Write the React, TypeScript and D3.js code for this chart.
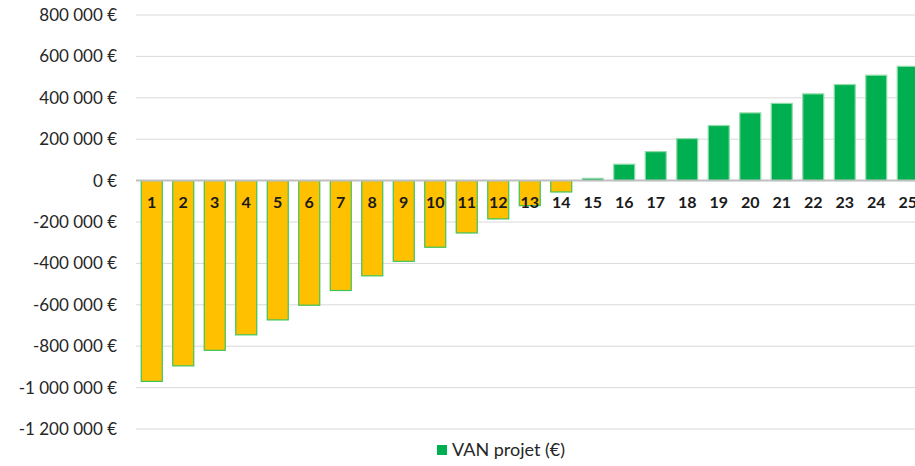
import React, { useEffect, useRef } from "react";
import * as d3 from "d3";

// Years of the project
const years = d3.range(1, 26).map(String);

// Net present value of the project per year (€)
const vanProjet = [
  -970000, -895000, -820000, -745000, -673000, -602000, -531000, -460000,
  -390000, -322000, -253000, -185000, -121000, -55000, 11000, 79000, 140000,
  203000, 266000, 327000, 373000, 419000, 464000, 509000, 552000,
];

// Y-axis ticks
const yTicks = [
  800000, 600000, 400000, 200000, 0, -200000, -400000, -600000, -800000,
  -1000000, -1200000,
];

const legendLabel = "VAN projet (€)";

const fmt = (v: number) =>
  d3.format(",")(v).replace(/,/g, " ").replace("−", "-") + " €";

function App() {
  const ref = useRef<SVGSVGElement | null>(null);

  useEffect(() => {
    const svg = d3.select(ref.current);
    svg.selectAll("*").remove();

    const width = 915;
    const height = 466;
    const left = 136;
    const top = 15;
    const bottom = 429;

    const x = d3
      .scaleBand()
      .domain(years)
      .range([left, left + 31.5 * 25])
      .paddingInner(1 / 3)
      .paddingOuter(1 / 6);

    const y = d3
      .scaleLinear()
      .domain([-1200000, 800000])
      .range([bottom, top]);

    const font = "Lato, 'Open Sans', sans-serif";

    // Gridlines
    svg
      .append("g")
      .selectAll("line")
      .data(yTicks.filter(d => d !== 0))
      .join("line")
      .attr("x1", left)
      .attr("x2", width)
      .attr("y1", d => y(d))
      .attr("y2", d => y(d))
      .attr("stroke", "#d9d9d9")
      .attr("stroke-width", 1);

    // Y labels
    svg
      .append("g")
      .selectAll("text")
      .data(yTicks)
      .join("text")
      .attr("x", 117)
      .attr("y", d => y(d))
      .attr("dy", "0.35em")
      .attr("text-anchor", "end")
      .attr("font-family", font)
      .attr("font-size", 17)
      .attr("fill", "#262626")
      .text(d => fmt(d));

    // Bars
    svg
      .append("g")
      .selectAll("rect")
      .data(vanProjet)
      .join("rect")
      .attr("x", (d, i) => x(years[i])!)
      .attr("width", x.bandwidth())
      .attr("y", d => y(Math.max(0, d)))
      .attr("height", d => Math.abs(y(d) - y(0)))
      .attr("fill", d => (d < 0 ? "#ffc000" : "#00b050"))
      .attr("stroke", d => (d < 0 ? "#3cc35a" : "#8fdca8"))
      .attr("stroke-width", 1.2);

    // Zero axis
    svg
      .append("line")
      .attr("x1", left)
      .attr("x2", width)
      .attr("y1", y(0))
      .attr("y2", y(0))
      .attr("stroke", "#bfbfbf")
      .attr("stroke-width", 2);

    // Category labels
    svg
      .append("g")
      .selectAll("text")
      .data(years)
      .join("text")
      .attr("x", d => x(d)! + x.bandwidth() / 2)
      .attr("y", y(0) + 22)
      .attr("dy", "0.35em")
      .attr("text-anchor", "middle")
      .attr("font-family", font)
      .attr("font-weight", "bold")
      .attr("font-size", 16)
      .attr("fill", "#1a1a1a")
      .text(d => d);

    // Legend
    const legend = svg.append("g");
    legend
      .append("rect")
      .attr("x", 437)
      .attr("y", 445)
      .attr("width", 10)
      .attr("height", 10)
      .attr("fill", "#00b050");
    legend
      .append("text")
      .attr("x", 452)
      .attr("y", 450)
      .attr("dy", "0.35em")
      .attr("font-family", font)
      .attr("font-size", 18)
      .attr("fill", "#262626")
      .text(legendLabel);

    svg.attr("width", width).attr("height", height);
  }, []);

  return (
    <svg
      ref={ref}
      width={915}
      height={466}
      style={{ position: "absolute", left: 0, top: 0, background: "#fff" }}
    />
  );
}

export default App;
